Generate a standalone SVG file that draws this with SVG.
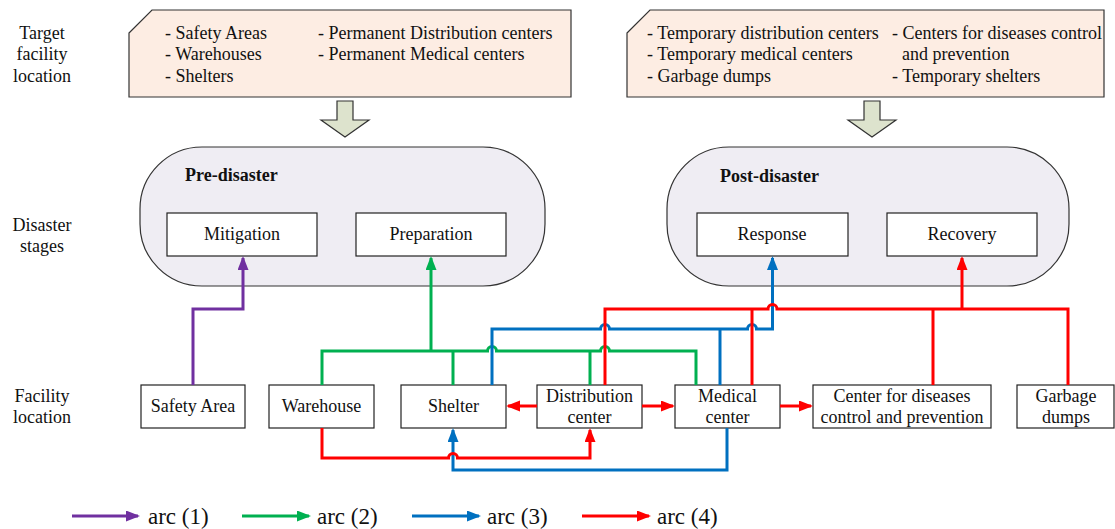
<svg xmlns="http://www.w3.org/2000/svg" width="1115" height="529" viewBox="0 0 1115 529">
  <style>
    text { font-family: "Liberation Serif", "Times New Roman", serif; font-size: 18px; fill: #111; }
    .mid { text-anchor: middle; }
    .head { font-weight: bold; font-size: 18px; }
    .legend { font-size: 23px; }
    .note { fill: #fdede3; stroke: #333; stroke-width: 1.2; }
    .phase { fill: #efedf3; stroke: #333; stroke-width: 1.2; }
    .box { fill: #fff; stroke: #222; stroke-width: 1.2; }
    .down { fill: #dde3cd; stroke: #333; stroke-width: 1.2; }
    .wire { fill: none; stroke-width: 3; }
    .a1 { stroke: #7030a0; }
    .a2 { stroke: #00b050; }
    .a3 { stroke: #0070c0; }
    .a4 { stroke: #ff0000; }
  </style>
  <defs>
    <marker id="m1" markerUnits="userSpaceOnUse" markerWidth="14" markerHeight="12" refX="12" refY="5.5" orient="auto"><path d="M0,0 L14,5.5 L0,11 z" fill="#7030a0"/></marker>
    <marker id="m2" markerUnits="userSpaceOnUse" markerWidth="14" markerHeight="12" refX="12" refY="5.5" orient="auto"><path d="M0,0 L14,5.5 L0,11 z" fill="#00b050"/></marker>
    <marker id="m3" markerUnits="userSpaceOnUse" markerWidth="14" markerHeight="12" refX="12" refY="5.5" orient="auto"><path d="M0,0 L14,5.5 L0,11 z" fill="#0070c0"/></marker>
    <marker id="m4" markerUnits="userSpaceOnUse" markerWidth="14" markerHeight="12" refX="12" refY="5.5" orient="auto"><path d="M0,0 L14,5.5 L0,11 z" fill="#ff0000"/></marker>
  </defs>

  <!-- row labels -->
  <g id="row-labels">
    <text class="mid" x="42" y="39">Target</text>
    <text class="mid" x="42" y="60">facility</text>
    <text class="mid" x="42" y="82">location</text>
    <text class="mid" x="42" y="231">Disaster</text>
    <text class="mid" x="42" y="252">stages</text>
    <text class="mid" x="42" y="402">Facility</text>
    <text class="mid" x="42" y="423">location</text>
  </g>

  <!-- target facility notes -->
  <g id="note-pre">
    <path class="note" d="M129,33 L152,10 H571 V97 H129 Z"/>
    <text x="165" y="39">- Safety Areas</text>
    <text x="165" y="60">- Warehouses</text>
    <text x="165" y="82">- Shelters</text>
    <text x="318" y="39">- Permanent Distribution centers</text>
    <text x="318" y="60">- Permanent Medical centers</text>
  </g>
  <g id="note-post">
    <path class="note" d="M627,33 L650,10 H1104 V97 H627 Z"/>
    <text x="647" y="39">- Temporary distribution centers</text>
    <text x="647" y="60">- Temporary medical centers</text>
    <text x="647" y="82">- Garbage dumps</text>
    <text x="892" y="39">- Centers for diseases control</text>
    <text x="902" y="60">and prevention</text>
    <text x="892" y="82">- Temporary shelters</text>
  </g>

  <!-- block arrows -->
  <g id="down-arrows">
    <polygon class="down" points="337,101 353,101 353,120 369,120 345,137 321,120 337,120"/>
    <polygon class="down" points="864,101 880,101 880,120 896,120 872,137 848,120 864,120"/>
  </g>

  <!-- disaster stages -->
  <g id="stage-pre">
    <rect class="phase" x="140" y="147" width="405" height="139" rx="62" ry="62"/>
    <text class="head" x="185" y="181">Pre-disaster</text>
  </g>
  <g id="stage-post">
    <rect class="phase" x="667" y="147" width="402" height="139" rx="62" ry="62"/>
    <text class="head" x="720" y="182">Post-disaster</text>
  </g>
  <g id="mitigation">
    <rect class="box" x="167" y="213" width="150" height="43"/>
    <text class="mid" x="242" y="240">Mitigation</text>
  </g>
  <g id="preparation">
    <rect class="box" x="356" y="213" width="150" height="43"/>
    <text class="mid" x="431" y="240">Preparation</text>
  </g>
  <g id="response">
    <rect class="box" x="697" y="213" width="151" height="43"/>
    <text class="mid" x="772" y="240">Response</text>
  </g>
  <g id="recovery">
    <rect class="box" x="887" y="213" width="150" height="43"/>
    <text class="mid" x="962" y="240">Recovery</text>
  </g>

  <!-- facilities -->
  <g id="safety-area">
    <rect class="box" x="141" y="385" width="104" height="43"/>
    <text class="mid" x="193" y="412">Safety Area</text>
  </g>
  <g id="warehouse">
    <rect class="box" x="269" y="385" width="105" height="43"/>
    <text class="mid" x="321.5" y="412">Warehouse</text>
  </g>
  <g id="shelter">
    <rect class="box" x="401" y="385" width="105" height="43"/>
    <text class="mid" x="453.5" y="412">Shelter</text>
  </g>
  <g id="distribution-center">
    <rect class="box" x="537" y="385" width="105" height="43"/>
    <text class="mid" x="589.5" y="402">Distribution</text>
    <text class="mid" x="589.5" y="423">center</text>
  </g>
  <g id="medical-center">
    <rect class="box" x="675" y="385" width="105" height="43"/>
    <text class="mid" x="727.5" y="402">Medical</text>
    <text class="mid" x="727.5" y="423">center</text>
  </g>
  <g id="disease-center">
    <rect class="box" x="813" y="385" width="178" height="43"/>
    <text class="mid" x="902" y="402">Center for diseases</text>
    <text class="mid" x="902" y="423">control and prevention</text>
  </g>
  <g id="garbage-dumps">
    <rect class="box" x="1017" y="385" width="97" height="43"/>
    <text class="mid" x="1066" y="402">Garbage</text>
    <text class="mid" x="1066" y="423">dumps</text>
  </g>

  <!-- connectors; small arcs are line hops -->
  <g id="connectors">
    <path class="wire a1" d="M193,385 V309 H243 V258" marker-end="url(#m1)"/>

    <path class="wire a2" d="M322,385 V351 H487.5 A4.5,4.5 0 0 1 496.5,351 H600.5 A4.5,4.5 0 0 1 609.5,351 H696 V385"/>
    <path class="wire a2" d="M453,385 V351 M590,385 V351"/>
    <path class="wire a2" d="M431,351 V258" marker-end="url(#m2)"/>

    <path class="wire a3" d="M492,385 V329 H600.5 A4.5,4.5 0 0 1 609.5,329 H747.5 A4.5,4.5 0 0 1 756.5,329 H772.5 V258" marker-end="url(#m3)"/>
    <path class="wire a3" d="M720,385 V329"/>
    <path class="wire a3" d="M727,428 V470 H453 V430" marker-end="url(#m3)"/>

    <path class="wire a4" d="M605,385 V309 H768 A4.5,4.5 0 0 1 777,309 H1068 V385"/>
    <path class="wire a4" d="M752,385 V309 M933,385 V309"/>
    <path class="wire a4" d="M962,309 V258" marker-end="url(#m4)"/>
    <path class="wire a4" d="M322,428 V458 H448.5 A4.5,4.5 0 0 1 457.5,458 H590 V430" marker-end="url(#m4)"/>
    <path class="wire a4" d="M537,406 H508" marker-end="url(#m4)"/>
    <path class="wire a4" d="M642,406 H673" marker-end="url(#m4)"/>
    <path class="wire a4" d="M780,406 H811" marker-end="url(#m4)"/>
  </g>

  <!-- legend -->
  <g id="legend">
    <path class="wire a1" d="M72,516 H138" marker-end="url(#m1)"/>
    <text class="legend" x="148" y="524">arc (1)</text>
    <path class="wire a2" d="M242,516 H309" marker-end="url(#m2)"/>
    <text class="legend" x="317" y="524">arc (2)</text>
    <path class="wire a3" d="M412,516 H479" marker-end="url(#m3)"/>
    <text class="legend" x="487" y="524">arc (3)</text>
    <path class="wire a4" d="M582,516 H649" marker-end="url(#m4)"/>
    <text class="legend" x="657" y="524">arc (4)</text>
  </g>
</svg>
